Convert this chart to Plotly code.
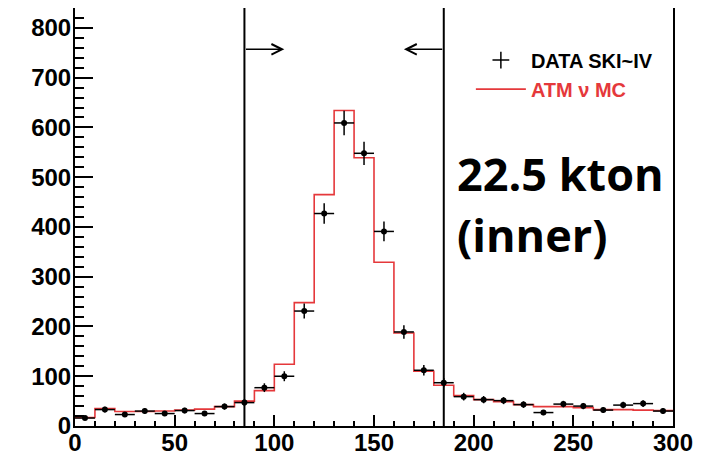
import plotly.graph_objects as go

# ---- data ----
bin_edges = [0, 10, 20, 30, 40, 50, 60, 70, 80, 90, 100, 110, 120, 130, 140, 150,
             160, 170, 180, 190, 200, 210, 220, 230, 240, 250, 260, 270, 280, 290, 300]
bin_centers = [5, 15, 25, 35, 45, 55, 65, 75, 85, 95, 105, 115, 125, 135, 145, 155,
               165, 175, 185, 195, 205, 215, 225, 235, 245, 255, 265, 275, 285, 295]
data_counts = [16, 33, 23, 30, 25, 31, 25, 39, 47, 77, 100, 231, 427, 609, 548, 391,
               189, 112, 87, 59, 53, 51, 43, 27, 44, 40, 32, 42, 45, 30]
data_errors = [4.0, 5.7, 4.8, 5.5, 5.0, 5.6, 5.0, 6.2, 6.9, 8.8, 10.0, 15.2, 20.7, 24.7, 23.4, 19.8,
               13.7, 10.6, 9.3, 7.7, 7.3, 7.1, 6.6, 5.2, 6.6, 6.3, 5.7, 6.5, 6.7, 5.5]
mc_counts = [17, 35, 29, 29, 30, 32, 34, 39, 50, 71, 124, 248, 465, 634, 539, 329,
             187, 110, 82, 61, 53, 49, 43, 39, 39, 37, 33, 33, 32, 31]
bin_half_width = 5
cut_low = 85
cut_high = 185
arrow_y = 757
arrow_len = 20
x_ticks = [0, 50, 100, 150, 200, 250, 300]
y_ticks = [0, 100, 200, 300, 400, 500, 600, 700, 800]

RED = "#e5383b"
TICKFONT = dict(family="Liberation Sans", size=24, color="black", weight="bold")

fig = go.Figure()

# MC step histogram
fig.add_trace(go.Scatter(
    x=bin_edges, y=mc_counts + [mc_counts[-1]],
    mode="lines", line=dict(color=RED, width=1.6, shape="hv"),
    showlegend=False,
))

# Data points
fig.add_trace(go.Scatter(
    x=bin_centers, y=data_counts, mode="markers",
    marker=dict(color="black", size=6),
    error_y=dict(type="data", array=data_errors, color="black", thickness=1.5, width=0),
    error_x=dict(type="constant", value=bin_half_width, color="black", thickness=1.5, width=0),
    showlegend=False,
))

# Legend entries
fig.add_trace(go.Scatter(
    x=[None], y=[None], mode="markers",
    marker=dict(symbol="cross-thin", size=12, line=dict(color="black", width=1.5)),
    name="<b>DATA SKI~IV</b>",
))
fig.add_trace(go.Scatter(
    x=[None], y=[None], mode="lines", line=dict(color=RED, width=1.6),
    name='<span style="color:#e5383b"><b>ATM ν MC</b></span>',
))

# cut lines
for c in (cut_low, cut_high):
    fig.add_shape(type="line", x0=c, x1=c, y0=0, y1=1, xref="x", yref="paper",
                  line=dict(color="black", width=2))

# arrows
fig.add_annotation(x=cut_low + arrow_len, y=arrow_y, ax=cut_low, ay=arrow_y,
                   xref="x", yref="y", axref="x", ayref="y", text="",
                   showarrow=True, arrowhead=5, arrowsize=1.3, arrowwidth=1.6,
                   arrowcolor="black")
fig.add_annotation(x=cut_high - arrow_len, y=arrow_y, ax=cut_high, ay=arrow_y,
                   xref="x", yref="y", axref="x", ayref="y", text="",
                   showarrow=True, arrowhead=5, arrowsize=1.3, arrowwidth=1.6,
                   arrowcolor="black")

# big text
fig.add_annotation(x=0.635, y=0.605, xref="paper", yref="paper", xanchor="left",
                   yanchor="middle", text="<b>22.5 kton</b>", showarrow=False,
                   font=dict(family="Open Sans", size=45, color="black"))
fig.add_annotation(x=0.635, y=0.458, xref="paper", yref="paper", xanchor="left",
                   yanchor="middle", text="<b>(inner)</b>", showarrow=False,
                   font=dict(family="Open Sans", size=45, color="black"))

fig.update_xaxes(
    range=[0, 300], tickvals=x_ticks, ticks="inside", ticklen=11, tickwidth=1.5,
    tickcolor="black", showline=True, linecolor="black", linewidth=2, mirror=True,
    showgrid=False, zeroline=False, tickfont=TICKFONT, automargin=False,
    ticklabelstandoff=-6,
    minor=dict(dtick=10, ticks="inside", ticklen=5, tickwidth=1.5, tickcolor="black", showgrid=False),
)
fig.update_yaxes(
    range=[0, 840], tickvals=y_ticks, ticks="inside", ticklen=18, tickwidth=1.5,
    tickcolor="black", showline=True, linecolor="black", linewidth=2, mirror=True,
    showgrid=False, zeroline=False, tickfont=TICKFONT, automargin=False,
    ticklabelstandoff=-3,
    minor=dict(dtick=20, ticks="inside", ticklen=9, tickwidth=1.5, tickcolor="black", showgrid=False),
)

# page body has an 8px default margin, so the figure is sized to fit the window
fig.update_layout(
    width=709, height=449,
    margin=dict(l=67, r=44, t=0, b=31),
    paper_bgcolor="white", plot_bgcolor="white",
    legend=dict(x=0.662, y=0.922, xanchor="left", yanchor="top", bgcolor="rgba(0,0,0,0)",
                itemwidth=50,
                font=dict(family="Liberation Sans", size=20, color="black")),
)

fig.write_html("out.html")
